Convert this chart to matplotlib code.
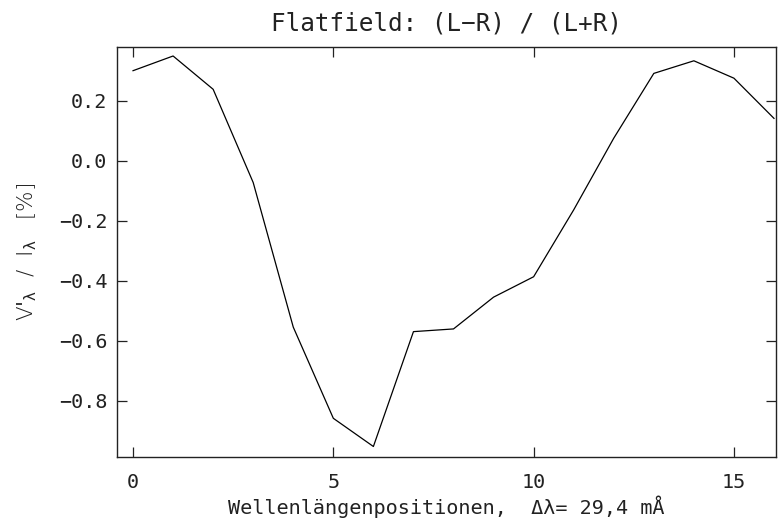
import matplotlib
matplotlib.use("Agg")
import matplotlib.pyplot as plt

positions = list(range(17))
values = [0.300, 0.349, 0.238, -0.073, -0.555, -0.859, -0.953, -0.570, -0.561,
          -0.455, -0.387, -0.164, 0.075, 0.291, 0.333, 0.275, 0.141]
xticks = [0, 5, 10, 15]
yticks = [-0.8, -0.6, -0.4, -0.2, 0.0, 0.2]
ytick_labels = ["\u22120.8", "\u22120.6", "\u22120.4", "\u22120.2", "0.0", "0.2"]

plt.rcParams['font.family'] = ['DejaVu Sans Mono', 'DejaVu Sans']
plt.rcParams['mathtext.fontset'] = 'dejavusans'
plt.rcParams['mathtext.default'] = 'rm'

ink = '#222222'
fig = plt.figure(figsize=(7.84, 5.26), dpi=100)
ax = fig.add_axes([117/784, 1 - 456.7/526, (776 - 117)/784, (456.7 - 46.7)/526])
ax.plot(positions, values, color='black', linewidth=0.9)
ax.set_xlim(-0.4, 16.05)
ax.set_ylim(-0.987, 0.38)
ax.set_xticks(xticks)
ax.set_xticklabels([str(t) for t in xticks])
ax.set_yticks(yticks)
ax.set_yticklabels(ytick_labels)
ax.tick_params(direction='in', length=7, width=0.9, top=True, right=True,
               labelsize=14.5, pad=7, colors=ink)
ax.tick_params(axis='x', pad=12)
for s in ax.spines.values():
    s.set_linewidth(1.0)
    s.set_color(ink)
ax.set_title("Flatfield: (L\u2212R) / (L+R)", fontsize=17.5, pad=12, color=ink)
ax.set_xlabel("Wellenlängenpositionen,  \u0394\u03bb= 29,4 mÅ", fontsize=14.5, labelpad=2, color=ink)
ax.set_ylabel(r"V$'_{\lambda}$  /  I$_{\lambda}$   [%]", fontsize=15.5, labelpad=14,
              color=ink, family='DejaVu Sans', fontweight='light')
fig.savefig("out.png", dpi=100)
